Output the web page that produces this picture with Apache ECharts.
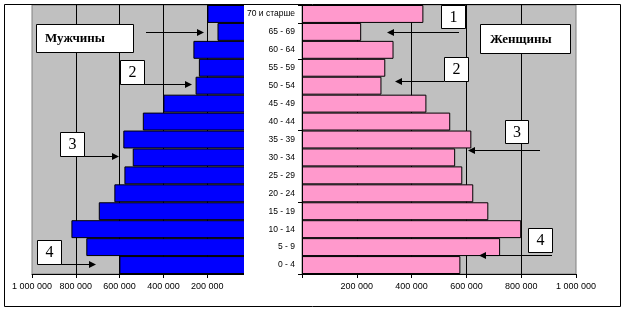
<!DOCTYPE html>
<html>
<head>
<meta charset="utf-8">
<script src="https://cdn.jsdelivr.net/npm/echarts@6/dist/echarts.min.js"></script>
<style>
  html, body { margin: 0; padding: 0; background: #fff; }
  #chart { width: 625px; height: 325px; }
</style>
</head>
<body>
<div id="chart"></div>
<script>
// Age groups, bottom to top
const ageGroups = ['0 - 4', '5 - 9', '10 - 14', '15 - 19', '20 - 24', '25 - 29', '30 - 34',
  '35 - 39', '40 - 44', '45 - 49', '50 - 54', '55 - 59', '60 - 64', '65 - 69', '70 и старше'];

// Population by age group
const male = [601000, 752000, 820000, 695000, 624000, 578000, 540000,
  583000, 494000, 400000, 253000, 238000, 263000, 153000, 199000];
const female = [578000, 723000, 800000, 680000, 625000, 585000, 559000,
  618000, 541000, 454000, 290000, 304000, 334000, 216000, 443000];

// Value-axis ticks
const axisMax = 1000000;
const axisStep = 200000;

const fmt = v => v === 0 ? '' : String(v).replace(/\B(?=(\d{3})+(?!\d))/g, ' ');

const labelFont = { color: '#000', fontSize: 9, fontFamily: 'Liberation Sans' };

function valueAxis(gridIndex, inverse) {
  return {
    gridIndex, type: 'value', inverse, min: 0, max: axisMax, interval: axisStep,
    axisLine: { show: true, lineStyle: { color: '#000', width: 1 } },
    axisTick: { show: true, length: 4, lineStyle: { color: '#000' } },
    axisLabel: Object.assign({ formatter: fmt, margin: 8 }, labelFont),
    splitLine: { show: true, showMaxLine: false, lineStyle: { color: '#000', width: 1 } }
  };
}

// Annotation boxes and arrows
const boxes = [
  { x: 36, y: 24, w: 97, h: 28, t: 'Мужчины', bold: true, tx: 45 },
  { x: 120, y: 60, w: 24, h: 24, t: '2' },
  { x: 60, y: 132, w: 24, h: 24, t: '3' },
  { x: 37, y: 240, w: 24, h: 24, t: '4' },
  { x: 441, y: 5, w: 24, h: 23, t: '1' },
  { x: 480, y: 24, w: 90, h: 29, t: 'Женщины', bold: true, tx: 490 },
  { x: 444, y: 57, w: 24, h: 24, t: '2' },
  { x: 505, y: 120, w: 23, h: 23, t: '3' },
  { x: 528, y: 228, w: 24, h: 24, t: '4' }
];
const arrows = [
  { y: 32, from: 146, to: 204 },
  { y: 84, from: 144, to: 192 },
  { y: 156, from: 84, to: 119 },
  { y: 264, from: 61, to: 96 },
  { y: 32, from: 459, to: 387 },
  { y: 81, from: 444, to: 395 },
  { y: 150, from: 540, to: 468 },
  { y: 255, from: 552, to: 479 }
];

const graphics = [];
// white column behind the age labels
graphics.push({ type: 'rect', z: 50, silent: true,
  shape: { x: 244, y: 5, width: 57, height: 278 }, style: { fill: '#fff' } });
// outer frame
graphics.push({ type: 'rect', z: 80, silent: true,
  shape: { x: 4.5, y: 4.5, width: 616, height: 302 }, style: { fill: 'none', stroke: '#000', lineWidth: 1 } });

arrows.forEach(a => {
  const dir = a.to > a.from ? 1 : -1;
  const yy = a.y + 0.5;
  graphics.push({ type: 'line', z: 70, silent: true,
    shape: { x1: a.from, y1: yy, x2: a.to - dir * 5, y2: yy }, style: { stroke: '#000', lineWidth: 1 } });
  graphics.push({ type: 'polygon', z: 70, silent: true,
    shape: { points: [[a.to, yy], [a.to - dir * 7, yy - 3.5], [a.to - dir * 7, yy + 3.5]] },
    style: { fill: '#000' } });
});

boxes.forEach(b => {
  graphics.push({ type: 'rect', z: 72, silent: true,
    shape: { x: b.x + 0.5, y: b.y + 0.5, width: b.w, height: b.h },
    style: { fill: '#fff', stroke: '#000', lineWidth: 1 } });
  graphics.push({ type: 'text', z: 73, silent: true,
    style: {
      text: b.t,
      x: b.bold ? b.tx : b.x + b.w / 2 + 0.5,
      y: b.y + b.h / 2 + 1,
      fill: '#000',
      font: b.bold ? 'bold 13px "Liberation Serif"' : '16px "Liberation Serif"',
      align: b.bold ? 'left' : 'center', textAlign: b.bold ? 'left' : 'center',
      verticalAlign: 'middle', textVerticalAlign: 'middle'
    } });
});

const chart = echarts.init(document.getElementById('chart'), null, { renderer: 'canvas' });
chart.setOption({
  animation: false,
  backgroundColor: '#fff',
  grid: [
    { left: 32, top: 5, width: 219, height: 269, show: true, backgroundColor: '#C0C0C0', borderColor: '#808080', borderWidth: 1 },
    { left: 302, top: 5, width: 274, height: 269, show: true, backgroundColor: '#C0C0C0', borderColor: '#808080', borderWidth: 1 }
  ],
  xAxis: [valueAxis(0, true), valueAxis(1, false)],
  yAxis: [
    { gridIndex: 0, type: 'category', data: ageGroups, show: false },
    { gridIndex: 1, type: 'category', data: ageGroups, z: 60,
      axisLine: { show: true, lineStyle: { color: '#000', width: 1 } },
      axisTick: { show: true, interval: 3, length: 4, lineStyle: { color: '#000' } },
      axisLabel: Object.assign({ interval: 0, margin: 7 }, labelFont, { fontSize: 8.5 }),
      splitLine: { show: false } }
  ],
  series: [
    { name: 'Мужчины', type: 'bar', xAxisIndex: 0, yAxisIndex: 0, data: male, silent: true,
      barCategoryGap: '0%', itemStyle: { color: '#0000FF', borderColor: '#000', borderWidth: 1 } },
    { name: 'Женщины', type: 'bar', xAxisIndex: 1, yAxisIndex: 1, data: female, silent: true,
      barCategoryGap: '0%', itemStyle: { color: '#FF99CC', borderColor: '#000', borderWidth: 1 } }
  ],
  graphic: graphics
});
</script>
</body>
</html>
